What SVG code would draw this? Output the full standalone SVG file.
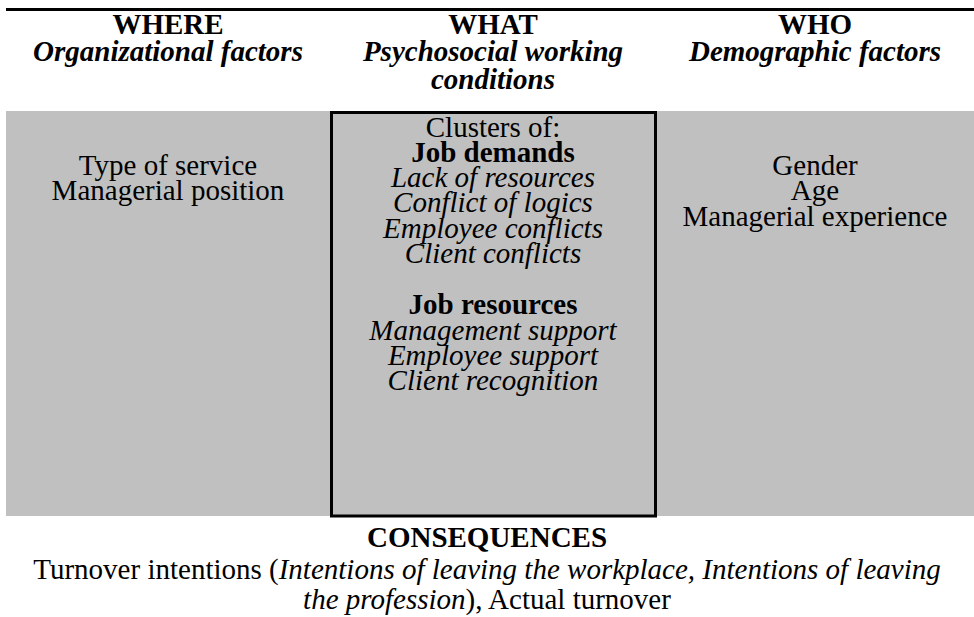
<svg xmlns="http://www.w3.org/2000/svg" width="974" height="617" viewBox="0 0 974 617">
<style>
text{font-family:"Liberation Serif","Times New Roman",serif;font-size:29px;fill:#000;text-anchor:middle}
.b{font-weight:bold}
.i{font-style:italic}
.bi{font-weight:bold;font-style:italic}
</style>
<rect x="0" y="0" width="974" height="617" fill="#fff"/>
<rect x="6" y="8" width="968" height="3" fill="#000"/>
<rect x="6" y="111" width="968" height="405" fill="#c0c0c0"/>
<g id="where">
<text x="168" y="34" class="b">WHERE</text>
<text x="168" y="61" class="bi">Organizational factors</text>
<text x="168" y="175">Type of service</text>
<text x="168" y="200">Managerial position</text>
</g>
<g id="what">
<text x="493" y="34" class="b">WHAT</text>
<text x="493" y="61" class="bi">Psychosocial working</text>
<text x="493" y="89" class="bi">conditions</text>
<rect x="331.5" y="112.5" width="324" height="403.5" fill="none" stroke="#000" stroke-width="3"/>
<text x="493" y="137">Clusters of:</text>
<text x="493" y="162" class="b">Job demands</text>
<text x="493" y="187" class="i">Lack of resources</text>
<text x="493" y="212" class="i">Conflict of logics</text>
<text x="493" y="238" class="i">Employee conflicts</text>
<text x="493" y="263" class="i">Client conflicts</text>
<text x="493" y="314" class="b">Job resources</text>
<text x="493" y="340" class="i">Management support</text>
<text x="493" y="365" class="i">Employee support</text>
<text x="493" y="390" class="i">Client recognition</text>
</g>
<g id="who">
<text x="815" y="34" class="b">WHO</text>
<text x="815" y="61" class="bi">Demographic factors</text>
<text x="815" y="175">Gender</text>
<text x="815" y="200">Age</text>
<text x="815" y="226">Managerial experience</text>
</g>
<g id="consequences">
<text x="487" y="547" class="b">CONSEQUENCES</text>
<text x="487" y="579">Turnover intentions (<tspan class="i">Intentions of leaving the workplace, Intentions of leaving</tspan></text>
<text x="487" y="609"><tspan class="i">the profession</tspan>), Actual turnover</text>
</g>
<g id="connectors"></g>
</svg>
